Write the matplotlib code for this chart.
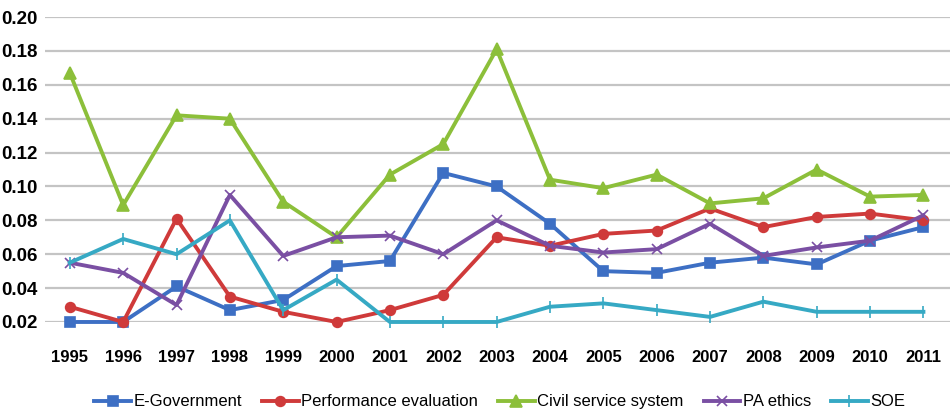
import matplotlib.pyplot as plt

years = list(range(1995, 2012))

e_government = [0.020, 0.020, 0.041, 0.027, 0.033, 0.053, 0.056, 0.108, 0.100,
                0.078, 0.050, 0.049, 0.055, 0.058, 0.054, 0.068, 0.076]
performance = [0.029, 0.020, 0.081, 0.035, 0.026, 0.020, 0.027, 0.036, 0.070,
               0.065, 0.072, 0.074, 0.087, 0.076, 0.082, 0.084, 0.080]
civil_service = [0.167, 0.089, 0.142, 0.140, 0.091, 0.070, 0.107, 0.125, 0.181,
                 0.104, 0.099, 0.107, 0.090, 0.093, 0.110, 0.094, 0.095]
pa_ethics = [0.055, 0.049, 0.030, 0.095, 0.059, 0.070, 0.071, 0.060, 0.080,
             0.065, 0.061, 0.063, 0.078, 0.059, 0.064, 0.068, 0.083]
soe = [0.055, 0.069, 0.060, 0.080, 0.027, 0.045, 0.020, 0.020, 0.020,
       0.029, 0.031, 0.027, 0.023, 0.032, 0.026, 0.026, 0.026]

yticks = [0.02, 0.04, 0.06, 0.08, 0.10, 0.12, 0.14, 0.16, 0.18, 0.20]

series = [
    ("E-Government", e_government, "#3d6fc4", "s", 7),
    ("Performance evaluation", performance, "#cf3a3a", "o", 7),
    ("Civil service system", civil_service, "#8cbf3a", "^", 9),
    ("PA ethics", pa_ethics, "#7a4fa3", "x", 7),
    ("SOE", soe, "#36a9c4", "|", 8),
]

plt.rcParams['font.family'] = ['Liberation Sans', 'DejaVu Sans']

fig = plt.figure(figsize=(9.52, 4.16), dpi=100)
ax = fig.add_axes([0.047, 0.226, 0.951, 0.733])

for name, vals, color, marker, ms in series:
    ax.plot(years, vals, color=color, lw=2.8, marker=marker, markersize=ms,
            markeredgewidth=1.2, label=name, zorder=3, clip_on=False)

ax.set_xlim(1994.53, 2011.5)
ax.set_ylim(0.02, 0.20)
ax.set_yticks(yticks)
ax.set_yticklabels([f"{v:.2f}" for v in yticks], fontsize=13.5, fontweight='bold')
ax.set_xticks(years)
ax.set_xticklabels([str(y) for y in years], fontsize=12, fontweight='bold')
ax.yaxis.grid(True, color='#c4c4c4', lw=1.6, zorder=0)
ax.set_axisbelow(True)
for s in ax.spines.values():
    s.set_visible(False)
ax.tick_params(axis='both', length=0)
ax.tick_params(axis='x', pad=20)
ax.tick_params(axis='y', pad=5)

fig.legend(loc='center', bbox_to_anchor=(0.525, 0.034), ncol=5, frameon=False,
           fontsize=12, handlelength=2.2, columnspacing=1.2, handletextpad=0.15)

fig.savefig('out.png', dpi=100)
